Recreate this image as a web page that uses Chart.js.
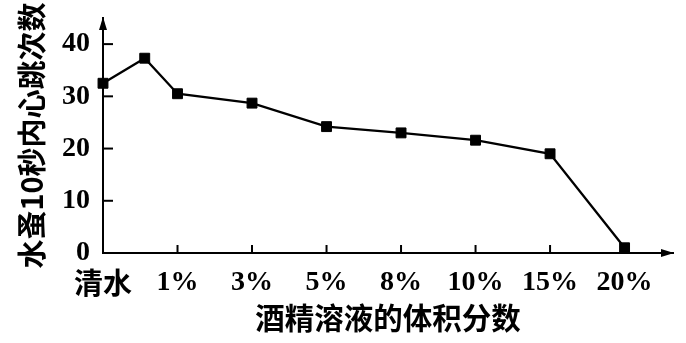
<!DOCTYPE html>
<html>
<head>
<meta charset="utf-8">
<script src="https://cdn.jsdelivr.net/npm/chart.js@4.4.0/dist/chart.umd.min.js"></script>
<style>
  html, body { margin: 0; padding: 0; background: #fff; }
  #wrap { width: 686px; height: 343px; }
</style>
</head>
<body>
<div id="wrap"><canvas id="heart_line"></canvas></div>
<script>
const tickLabels = ['清水', '1%', '3%', '5%', '8%', '10%', '15%', '20%'];
const xPos = [0, 0.56, 1, 2, 3, 4, 5, 6, 7];
const beats = [32.5, 37.3, 30.5, 28.7, 24.2, 23.0, 21.6, 19.0, 1.0];
const yTicks = [0, 10, 20, 30, 40];

const heart_line = document.getElementById('heart_line');
const serif = "'Liberation Serif', 'Noto Sans CJK SC', serif";
const cjk = "'Noto Sans CJK SC', 'Liberation Serif', sans-serif";

// inward tick marks + arrow heads on both axes
const axisDecor = {
  id: 'axisDecor',
  afterDraw(chart) {
    const {ctx, chartArea, scales: {x, y}} = chart;
    const {left, right, top, bottom} = chartArea;
    ctx.save();
    ctx.strokeStyle = '#000';
    ctx.fillStyle = '#000';
    ctx.lineWidth = 2;
    x.ticks.forEach(t => {
      if (t.value === 0) return;
      const px = x.getPixelForValue(t.value);
      ctx.beginPath();
      ctx.moveTo(px, bottom);
      ctx.lineTo(px, bottom - 8);
      ctx.stroke();
    });
    y.ticks.forEach(t => {
      if (t.value === 0) return;
      const py = y.getPixelForValue(t.value);
      ctx.beginPath();
      ctx.moveTo(left, py);
      ctx.lineTo(left + 10, py);
      ctx.stroke();
    });
    // x arrow
    ctx.beginPath();
    ctx.moveTo(right + 1, bottom);
    ctx.lineTo(right - 12, bottom - 4);
    ctx.lineTo(right - 12, bottom + 4);
    ctx.closePath();
    ctx.fill();
    // y arrow
    ctx.beginPath();
    ctx.moveTo(left, top - 1);
    ctx.lineTo(left - 4, top + 12);
    ctx.lineTo(left + 4, top + 12);
    ctx.closePath();
    ctx.fill();
    ctx.restore();
  }
};

function drawHeartLine(el) {
  if (!el) return;

  const data = {
    datasets: [{
      label: '心跳次数',
      data: xPos.map((v, i) => ({x: v, y: beats[i]})),
      borderColor: '#000',
      backgroundColor: '#000',
      borderWidth: 2.3,
      pointStyle: 'rect',
      pointRadius: 7,
      pointBorderWidth: 1,
      tension: 0,
      clip: false
    }]
  };

  const config = {
    type: 'line',
    data: data,
    plugins: [axisDecor],
    options: {
      responsive: true,
      maintainAspectRatio: false,
      animation: false,
      layout: {
        padding: {top: 18, right: 13, left: 0, bottom: 0}
      },
      scales: {
        x: {
          type: 'linear',
          min: 0,
          max: 7.65,
          afterBuildTicks: s => { s.ticks = tickLabels.map((_, i) => ({value: i})); },
          afterFit: s => { s.height = 90; s.paddingLeft = 0; s.paddingRight = 0; },
          grid: {display: false, drawTicks: false},
          border: {display: true, color: '#000', width: 2},
          ticks: {
            padding: 13,
            color: '#000',
            maxRotation: 0,
            autoSkip: false,
            font: ctx => ({
              family: ctx.index === 0 ? cjk : serif,
              size: ctx.index === 0 ? 29 : 28,
              weight: 'bold'
            }),
            callback: v => tickLabels[v]
          },
          title: {
            display: true,
            text: '酒精溶液的体积分数',
            color: '#000',
            font: {family: cjk, size: 29.5, weight: 'bold'},
            padding: {top: 0, bottom: 8}
          }
        },
        y: {
          min: 0,
          max: 45,
          afterBuildTicks: s => { s.ticks = yTicks.map(v => ({value: v})); },
          afterFit: s => { s.width = 103; s.paddingTop = 0; s.paddingBottom = 0; },
          grid: {display: false, drawTicks: false},
          border: {display: true, color: '#000', width: 2},
          ticks: {
            padding: 13,
            color: '#000',
            font: {family: serif, size: 28, weight: 'bold'}
          },
          title: {
            display: true,
            text: '水蚤10秒内心跳次数',
            color: '#000',
            font: {family: cjk, size: 29, weight: 'bold'},
            padding: {top: 15, bottom: 0}
          }
        }
      },
      plugins: {
        legend: {display: false},
        tooltip: {enabled: false},
        title: {display: false}
      }
    }
  };

  new Chart(el, config);
}

drawHeartLine(heart_line);
</script>
</body>
</html>
